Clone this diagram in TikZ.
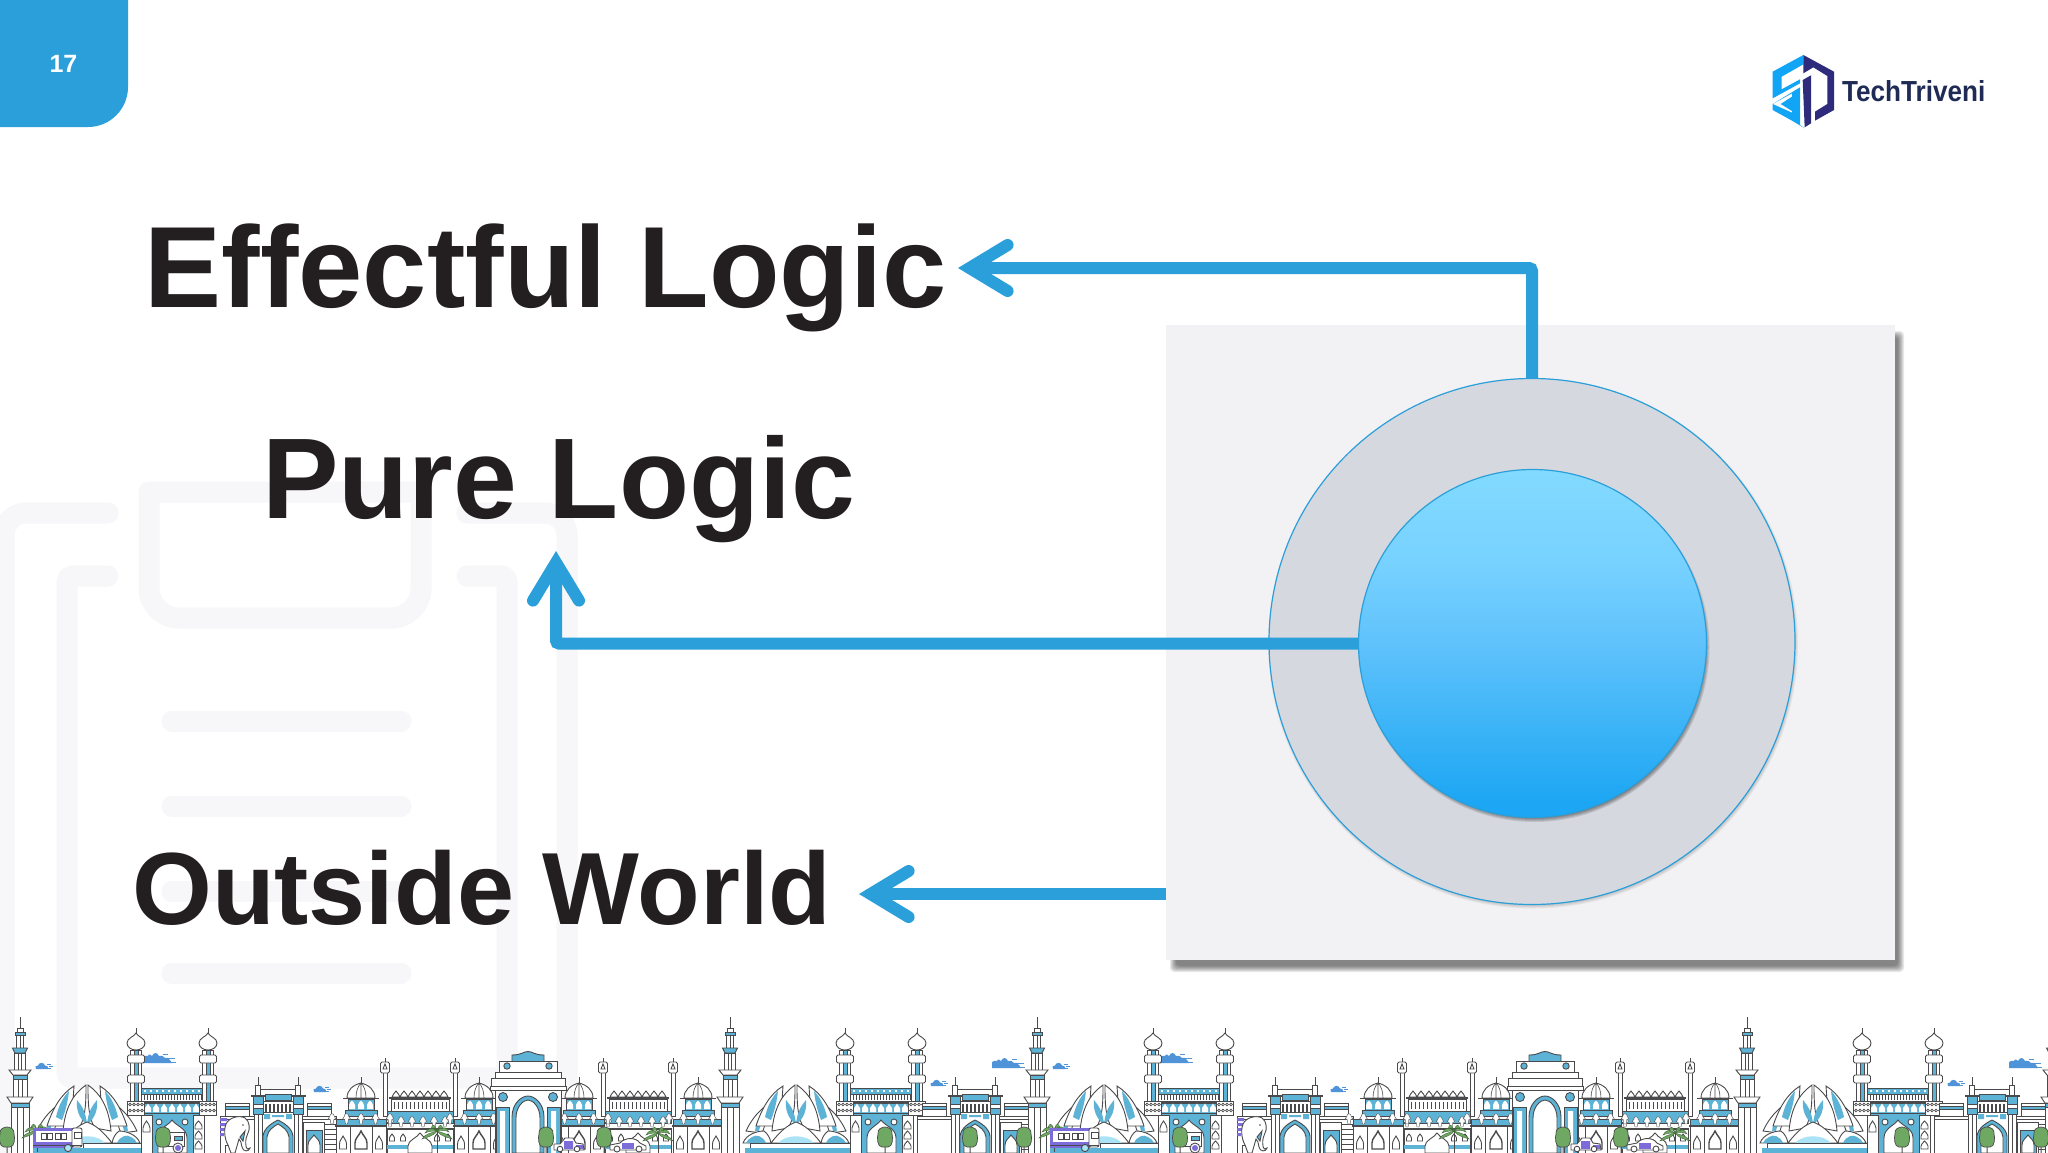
\documentclass[tikz,border=0pt]{standalone}
\usepackage{fontspec}
\setmainfont{Liberation Sans}
\usetikzlibrary{arrows.meta,calc}
\definecolor{ink}{HTML}{231F20}
\definecolor{flow}{HTML}{2A9FDA}
\definecolor{ghost}{HTML}{F7F6F8}
\definecolor{panelc}{HTML}{F2F2F4}
\definecolor{ringc}{HTML}{D6D8DF}
\definecolor{skyd}{HTML}{4A4A4C}
\definecolor{skyb}{HTML}{5DB3D6}
\definecolor{skyl}{HTML}{A9E3F5}
\definecolor{skyp}{HTML}{7B6CD9}
\definecolor{skyg}{HTML}{6FA862}
\definecolor{cloudc}{HTML}{4F94D8}
\definecolor{logol}{HTML}{12A5F5}
\definecolor{logod}{HTML}{2E2A7C}
\definecolor{logot}{HTML}{1F2A55}
\definecolor{ballt}{HTML}{82DAFF}
\definecolor{ballu}{HTML}{78D2FF}
\definecolor{ballm}{HTML}{5FC2FB}
\definecolor{ballb}{HTML}{1CA6F3}
\pgfdeclareverticalshading{ballshade}{100bp}{color(0bp)=(ballb); color(27bp)=(ballb); color(50bp)=(ballm); color(62bp)=(ballu); color(75bp)=(ballt); color(100bp)=(ballt)}
\tikzset{
 x=1pt,y=-1pt,
 sk/.style={draw=skyd,fill=white,line width=.9pt},
 sb/.style={draw=skyd,fill=skyb,line width=.9pt},
 sn/.style={draw=skyd,line width=.9pt},
 ghostline/.style={draw=ghost,line width=21pt,line cap=round,line join=round},
 conn/.style={draw=flow,line width=12pt,rounded corners=3pt,-{Straight Barb[length=38pt,width=46pt,line cap=round]}},
 bigtext/.style={inner sep=0pt,anchor=base west,text=ink,font=\bfseries},
}
% ---------- skyline parts (coordinates are page pixels) ----------
\newcommand\Tower[1]{\begin{scope}[shift={(#1,0)}]
 \draw[sn] (0,1017)--(0,1028);
 \draw[sk] (-3,1028) rectangle (3,1032);
 \draw[sb] (-5,1032) rectangle (5,1035);
 \draw[sk] (-3.5,1035) rectangle (3.5,1048); \draw[sn] (0,1035)--(0,1048);
 \draw[sb] (-7.5,1048)--(7.5,1048)--(5,1053)--(-5,1053)--cycle;
 \draw[sk] (-5.5,1053) rectangle (5.5,1070); \draw[sn] (-1.5,1053)--(-1.5,1070) (1.5,1053)--(1.5,1070);
 \draw[sk] (-11,1070)--(11,1070)--(7,1075)--(-7,1075)--cycle;
 \draw[sb] (-7,1075) rectangle (7,1079);
 \draw[sk] (-7,1079) rectangle (7,1097); \draw[sn] (-2,1079)--(-2,1097) (2,1079)--(2,1097);
 \draw[sk] (-13,1097)--(13,1097)--(9,1103)--(-9,1103)--cycle;
 \draw[sb] (-9,1103) rectangle (9,1107);
 \draw[sk] (-9,1107) rectangle (9,1153); \draw[sn] (-3,1107)--(-3,1153) (3,1107)--(3,1153);
\end{scope}}
\newcommand\Minaret[1]{\begin{scope}[shift={(#1,0)}]
 \draw[sn] (0,1028)--(0,1034);
 \draw[sk] (-5.5,1050) rectangle (5.5,1101);
 \draw[sb] (-2,1050) rectangle (2,1101);
 \draw[sk] (0,1033) .. controls (-2,1037) and (-9,1038) .. (-9,1043) .. controls (-9,1047) and (-5,1050) .. (0,1050) .. controls (5,1050) and (9,1047) .. (9,1043) .. controls (9,1038) and (2,1037) .. cycle;
 \draw[sk,rounded corners=1.5pt] (-8.5,1055) rectangle (8.5,1063);
 \draw[sk,rounded corners=1.5pt] (-8.5,1075) rectangle (8.5,1083);
 \draw[sk] (-8.5,1101) rectangle (8.5,1115);
 \foreach \a in {-6,-2,2,6}{\draw[sn,line width=.6pt] (\a,1104.5) circle (1.4) (\a,1110.5) circle (1.4);}
\end{scope}}
\newcommand\Mosque[1]{\begin{scope}[shift={(#1,0)}]
 \draw[sb] (141,1103) rectangle (204,1153);
 \draw[sb] (141,1088) rectangle (204,1094);
 \foreach \a in {145,151,...,201}{\fill[white] (\a-1.3,1090) rectangle (\a+1.3,1092);}
 \draw[sk] (141,1094) rectangle (204,1101);
 \foreach \a in {144,147,...,201}{\draw[sn,line width=.7pt] (\a,1095)--(\a,1100);}
 \draw[draw=skyd,fill=skyd] (141,1101) rectangle (204,1103);
 \foreach \a in {148,156,...,196}{\fill[white] (\a-3,1112)--(\a-3,1108) .. controls (\a-2,1106) and (\a-.5,1105.5) .. (\a,1103.5) .. controls (\a+.5,1105.5) and (\a+2,1106) .. (\a+3,1108)--(\a+3,1112)--cycle;}
 \draw[sn] (141,1113.5)--(204,1113.5);
 \draw[sk] (141,1115) rectangle (152,1153);
 \draw[sn] (146.5,1121) .. controls (145,1124) and (143,1125) .. (143,1128)--(143,1132)--(150,1132)--(150,1128) .. controls (150,1125) and (148,1124) .. cycle;
 \draw[sk] (193,1115) rectangle (204,1153);
 \foreach \a in {1121,1131,1141}{\draw[sn] (198.5,\a) .. controls (197,\a+2) and (195,\a+3) .. (195,\a+5)--(195,\a+8)--(202,\a+8)--(202,\a+5) .. controls (202,\a+3) and (200,\a+2) .. cycle;}
 \draw[sk] (172,1120) .. controls (168,1126) and (158,1128) .. (158,1138)--(158,1153)--(187,1153)--(187,1138) .. controls (187,1128) and (176,1126) .. cycle;
 \draw[sk] (159,1122) circle (3); \draw[sk] (185,1122) circle (3);
\end{scope}}
\newcommand\Lotus[1]{\begin{scope}[shift={(#1,0)}]
 \foreach \s in {-1,1}{\begin{scope}[xscale=\s]
  \draw[sk] (50,1131) .. controls (44,1118) and (36,1110) .. (28,1104) .. controls (29,1115) and (30,1124) .. (34,1133)--cycle;
  \fill[skyb] (37,1131) .. controls (35,1122) and (33,1116) .. (31,1110) .. controls (38,1116) and (40,1124) .. (41,1131)--cycle;
  \draw[sk] (40,1126) .. controls (34,1108) and (26,1094) .. (13,1086) .. controls (14,1100) and (14,1115) .. (22,1126)--cycle;
  \fill[skyb] (25,1120) .. controls (21,1110) and (19,1100) .. (18,1091) .. controls (25,1098) and (29,1108) .. (31,1117)--cycle;
  \draw[sk] (24,1131) .. controls (22,1108) and (14,1094) .. (1,1085) .. controls (1,1100) and (1,1118) .. (8,1128)--cycle;
  \fill[skyb] (0,1125) .. controls (8,1118) and (11,1110) .. (10,1100) .. controls (5,1106) and (1,1112) .. (0,1125)--cycle;
  \draw[sk] (53,1143) .. controls (50,1135) and (40,1131) .. (32,1131) .. controls (28,1134) and (26,1138) .. (25,1143)--cycle;
  \fill[skyb] (30,1143) .. controls (33,1136) and (40,1134) .. (44,1137) .. controls (47,1138) and (49,1141) .. (50,1143)--cycle;
 \end{scope}}
 \draw[sk] (-25,1143) .. controls (-15,1130) and (-8,1125) .. (0,1122) .. controls (8,1125) and (15,1130) .. (25,1143)--cycle;
 \fill[skyl] (-18,1143) .. controls (-10,1134) and (10,1134) .. (18,1143)--cycle;
\end{scope}}
\newcommand\Gateway[1]{\begin{scope}[shift={(#1,0)}]
 \draw[sk] (-53,1103) rectangle (-29,1116); \draw[sb] (-53,1106) rectangle (-29,1109);
 \draw[sk] (29,1103) rectangle (53,1116); \draw[sb] (29,1106) rectangle (53,1109);
 \draw[sk] (-58,1116) rectangle (58,1153);
 \draw[sn] (-58,1119)--(58,1119);
 \foreach \a in {1124,1129,...,1150}{\draw[sn,line width=.7pt] (47,\a)--(58,\a);}
 \draw[sk] (25,1122) rectangle (46,1153);
 \draw[sb] (28,1130) rectangle (44,1153);
 \draw[sk] (36,1135) .. controls (34,1138) and (30,1140) .. (30,1145)--(30,1153)--(42,1153)--(42,1145) .. controls (42,1140) and (38,1138) .. cycle;
 \draw[sk] (-22,1089) rectangle (22,1101); \draw[sb] (-13,1094) rectangle (13,1100);
 \draw[sk] (-22,1101) rectangle (22,1153);
 \foreach \a in {-16,-12,...,16}{\draw[sn,line width=1.2pt] (\a,1104)--(\a,1112);}
 \draw[sn] (-22,1112)--(22,1112);
 \fill[skyb] (-14,1114) rectangle (-8,1119) (8,1114) rectangle (14,1119) (-6,1115) rectangle (6,1117);
 \draw[sb] (-15,1153)--(-15,1136) .. controls (-14,1128) and (-6,1123) .. (0,1120) .. controls (6,1123) and (14,1128) .. (15,1136)--(15,1153);
 \draw[sk] (-11,1153)--(-11,1137) .. controls (-10,1130) and (-5,1127) .. (0,1124) .. controls (5,1127) and (10,1130) .. (11,1137)--(11,1153)--cycle;
 \foreach \s in {-1,1}{\begin{scope}[xscale=\s]
  \draw[sn] (20,1077)--(20,1085);
  \draw[sk] (17.5,1085) rectangle (22.5,1095);
  \draw[sk] (13,1095) rectangle (27,1096.5);
  \draw[sb] (15,1096.5) rectangle (25,1104);
  \draw[sk] (15,1104) rectangle (25,1108); \draw[sb] (15,1108) rectangle (25,1114);
  \draw[sk] (16,1114) rectangle (24,1153); \draw[sn] (20,1114)--(20,1153);
 \end{scope}}
\end{scope}}
\newcommand\DomeHall[1]{\begin{scope}[shift={(#1,0)}]
 \draw[sn] (0,1077)--(0,1083);
 \draw[sb] (-13,1099) rectangle (13,1111);
 \draw[sk] (-14,1098) .. controls (-14,1090) and (-8,1085) .. (0,1083) .. controls (8,1085) and (14,1090) .. (14,1098)--cycle;
 \draw[sn,line width=.6pt] (-5,1098) .. controls (-5,1091) and (-3,1086) .. (0,1083) .. controls (3,1086) and (5,1091) .. (5,1098) (0,1083)--(0,1098);
 \draw[sk] (-18,1098)--(18,1098);
 \foreach \a in {-9,0,9}{\fill[white] (\a-3,1109)--(\a-3,1105) .. controls (\a-3,1103) and (\a-1,1102) .. (\a,1100.5) .. controls (\a+1,1102) and (\a+3,1103) .. (\a+3,1105)--(\a+3,1109)--cycle;}
 \draw[sb] (-16,1110) rectangle (16,1116);
 \draw[sk] (-25,1125) rectangle (25,1153);
 \draw[sb] (-25,1119) rectangle (25,1125);
 \foreach \a in {-29,-14.5,0,14.5,29}{\fill[white,draw=skyd,line width=.4pt] (\a-4,1119)--(\a-2,1116) .. controls (\a-3,1113) and (\a+3,1113) .. (\a+2,1116)--(\a+4,1119)--(\a+2,1119)--(\a+1,1124)--(\a-1,1124)--(\a-2,1119)--cycle;}
 \draw[sn,line width=1.8pt] (-26,1126)--(26,1126);
 \draw[sn] (-11,1126)--(-11,1153) (11,1126)--(11,1153);
 \draw[sn,line width=1.4pt] (0,1131) .. controls (-2,1136) and (-6,1138) .. (-6,1143)--(-6,1149)--(6,1149)--(6,1143) .. controls (6,1138) and (2,1136) .. cycle;
 \foreach \a in {-18,18}{\draw[sn] (\a,1136) .. controls (\a-1,1139) and (\a-3.5,1140) .. (\a-3.5,1144)--(\a-3.5,1149)--(\a+3.5,1149)--(\a+3.5,1144) .. controls (\a+3.5,1140) and (\a+1,1139) .. cycle;}
\end{scope}}
\newcommand\LongHall[1]{\begin{scope}[shift={(#1,0)}]
 \foreach \a in {-35,35}{
  \draw[sn,fill=white] (\a-2,1072) rectangle (\a+2,1116);
  \draw[sn] (\a,1058)--(\a,1062);
  \draw[sk,rounded corners=1.5pt] (\a-4.5,1062) rectangle (\a+4.5,1073);
  \draw[sn] (\a,1064)--(\a-2,1069)--(\a+2,1069)--cycle;}
 \foreach \a in {-24,-16,...,24}{\draw[sk] (\a-4,1097) .. controls (\a-4,1094) and (\a-1,1094) .. (\a,1091) .. controls (\a+1,1094) and (\a+4,1094) .. (\a+4,1097)--cycle;}
 \draw[sn,line width=1.6pt] (-31,1098)--(31,1098);
 \draw[sk] (-29,1099) rectangle (29,1111);
 \foreach \a in {-26,-22,...,26}{\draw[sn,line width=1pt] (\a,1102)--(\a,1109);}
 \draw[sb] (-33,1111) rectangle (33,1123);
 \foreach \a in {-30,-19,...,30}{\fill[white,draw=skyd,line width=.4pt] (\a-4,1122)--(\a-2,1119) .. controls (\a-3,1116) and (\a+3,1116) .. (\a+2,1119)--(\a+4,1122)--(\a+2,1122)--(\a+1,1127)--(\a-1,1127)--(\a-2,1122)--cycle;}
 \draw[sk] (-33,1129) rectangle (33,1153);
 \draw[sn,line width=1.8pt] (-34,1129)--(34,1129);
 \fill[skyb] (-33,1145) rectangle (33,1149);
 \foreach \a in {-28,-17,17,28}{\draw[sn] (\a,1134) .. controls (\a-1,1136) and (\a-2.5,1136) .. (\a-2.5,1138)--(\a-2.5,1141)--(\a+2.5,1141)--(\a+2.5,1138) .. controls (\a+2.5,1136) and (\a+1,1136) .. cycle;}
 \draw[sk] (0,1133) .. controls (-3,1138) and (-12,1140) .. (-12,1146)--(-12,1153)--(12,1153)--(12,1146) .. controls (12,1140) and (3,1138) .. cycle;
\end{scope}}
\newcommand\IndiaGate[1]{\begin{scope}[shift={(#1,0)}]
 \draw[sb] (-16,1061) -- (-16,1055) .. controls (-6,1055) and (-5,1051.5) .. (0,1051.5) .. controls (5,1051.5) and (6,1055) .. (16,1055) -- (16,1061);
 \draw[sk] (-29,1061) rectangle (29,1072);
 \draw[sb] (-21,1066) circle (3.2); \draw[sb] (21,1066) circle (3.2);
 \draw[sk] (-33,1072) rectangle (33,1078);
 \draw[sk] (-37,1078) rectangle (37,1086);
 \draw[sk] (-38,1086) rectangle (38,1090);
 \draw[sk] (-33,1090) rectangle (33,1153);
 \draw[sb] (-25,1097) circle (4.5); \draw[sb] (25,1097) circle (4.5);
 \draw[sb] (-32,1107) rectangle (-19,1153); \draw[sb] (19,1107) rectangle (32,1153);
 \fill[white] (-28,1111) rectangle (-23,1153) (23,1111) rectangle (28,1153);
 \draw[sb] (-16,1153)--(-16,1117) .. controls (-16,1104) and (-7,1096) .. (0,1096) .. controls (7,1096) and (16,1104) .. (16,1117)--(16,1153)--cycle;
 \draw[sk] (-12,1153)--(-12,1118) .. controls (-12,1107) and (-5,1100) .. (0,1100) .. controls (5,1100) and (12,1107) .. (12,1118)--(12,1153)--cycle;
\end{scope}}
\newcommand\Tree[2]{\begin{scope}[shift={(#1,#2)}]
 \draw[skyd,line width=1pt] (0,0)--(0,26) (-3,12)--(0,16) (3,10)--(0,14);
 \draw[draw=skyd,fill=skyg,line width=.7pt] (-3,20) .. controls (-8,20) and (-8,10) .. (-7,7) .. controls (-8,2) and (-3,0) .. (0,0) .. controls (3,0) and (8,2) .. (7,7) .. controls (8,10) and (8,20) .. (3,20)--cycle;
\end{scope}}
\newcommand\Palm[2]{\begin{scope}[shift={(#1,#2)}]
 \draw[skyd,line width=1pt] (0,3)--(0,25);
 \foreach \a/\b in {-15/8,-12/2,-6/-2,15/8,12/1,6/-2}{\draw[draw=skyg!60!black,fill=skyg,line width=.4pt] (0,3) .. controls (\a*.4,\b-3) and (\a*.8,\b-2) .. (\a,\b+3) .. controls (\a*.7,\b+1) and (\a*.3,\b+1) .. (0,3)--cycle;}
\end{scope}}
\newcommand\Cloud[3]{\begin{scope}[shift={(#1,#2)},scale=#3]
 \fill[cloudc] (-6,0) .. controls (-8,-2) and (-6,-4) .. (-4,-3.5) .. controls (-3,-7) and (2,-7) .. (3,-3.5) .. controls (5,-4) and (7,-2) .. (6,0)--cycle;
 \draw[cloudc,line width=.6pt] (5,-5)--(9,-5) (7,-2.5)--(11,-2.5) (6,-.5)--(9,-.5);
\end{scope}}
\newcommand\BigCloud[2]{\begin{scope}[shift={(#1,#2)}]
 \fill[cloudc] (-14,5)--(-14,-1) .. controls (-12,-3) and (-11,-2) .. (-9,-2) .. controls (-8,-5) and (-6,-3) .. (-5,-2) .. controls (-3,-6) and (0,-6) .. (2,-2) .. controls (5,-3) and (6,-2) .. (8,0) .. controls (10,-1) and (12,0) .. (13,2) -- (15,5)--cycle;
 \draw[cloudc,line width=.6pt] (6,-4)--(11,-4) (10,0)--(18,0) (12,4)--(19,4);
\end{scope}}
\newcommand\Bus[1]{\begin{scope}[shift={(#1,0)}]
 \fill[skyp] (33,1128) rectangle (73,1148);
 \fill[white] (36,1131) rectangle (72,1142);
 \foreach \a in {44,50,58,64}{\draw[sk,line width=.7pt] (\a-2.5,1133) rectangle (\a+2.5,1139);}
 \draw[sk,rounded corners=2pt] (72,1128) rectangle (82,1147);
 \draw[sn] (74,1132) rectangle (81,1138);
 \draw[sn] (33,1145)--(82,1145);
 \draw[sk,fill=skyl] (68,1148) circle (3.6);
\end{scope}}
\newcommand\Scooter[1]{\begin{scope}[shift={(#1,0)}]
 \draw[sk] (167,1132) rectangle (184,1146);
 \draw[sb] (174,1136) rectangle (182,1140);
 \draw[sk] (178,1148) circle (5);
 \fill[skyp] (178,1148) circle (3);
\end{scope}}
\newcommand\Elephant[1]{\begin{scope}[shift={(#1,0)}]
 \fill[skyp] (220,1118) rectangle (227,1121) (220,1123) rectangle (226,1126) (220,1128) rectangle (226,1131) (220,1133) rectangle (224,1136);
 \draw[sk] (225,1153)--(225,1145)--(231,1145)--(231,1153);
 \draw[sk] (228,1145) .. controls (224,1138) and (224,1128) .. (226,1124) .. controls (229,1117) and (240,1115) .. (245,1118) .. controls (250,1121) and (250,1130) .. (248,1133) .. controls (247,1136) and (245,1138) .. (246,1146) .. controls (246,1149) and (249,1150) .. (250,1148) .. controls (249,1152) and (243,1152) .. (242,1147) .. controls (241,1143) and (241,1140) .. (239,1139) -- (235,1153) -- (231,1153) -- cycle;
 \draw[sb] (240,1137)--(245,1131)--(243,1141)--cycle;
 \fill[skyd] (243,1125) circle (.9);
\end{scope}}
\newcommand\CarA[1]{\begin{scope}[shift={(#1,0)}]
 \draw[sk] (-14,1150)--(-14,1144)--(-8,1144)--(-3,1138)--(5,1138)--(8,1143)--(15,1144)--(16,1150)--cycle;
 \fill[skyp] (-4,1141) rectangle (5,1149) (8,1145) rectangle (15,1149);
 \draw[sk] (-8,1149) circle (2.8); \draw[sk] (9,1149) circle (2.8);
\end{scope}}
\newcommand\CarB[1]{\begin{scope}[shift={(#1,0)}]
 \draw[sk] (-18,1150)--(-18,1145)--(-8,1143) .. controls (-3,1137) and (8,1137) .. (12,1143)--(18,1146)--(18,1150)--cycle;
 \fill[skyp] (-6,1143) rectangle (6,1149);
 \draw[sk] (-11,1149) circle (3); \draw[sk] (11,1149) circle (3);
\end{scope}}
\newcommand\SkyTile[1]{\begin{scope}[shift={(#1,0)}]
 \Cloud{42}{1069}{1}
 \BigCloud{157}{1058}
 \Cloud{320}{1092}{1}
 \Cloud{937}{1086}{1}
 \BigCloud{1006}{1063}
 % first group
 \Lotus{87}
 \draw[sk] (83,1143) rectangle (170,1148);
 \fill[skyb] (33,1148) rectangle (172,1153);
 \Mosque{0}
 \Minaret{136}\Minaret{208}
 \Scooter{0}
 \Tree{163}{1127}
 \Gateway{278}
 \Elephant{0}
 \Tower{20}
 \Tree{7}{1127}
 \Palm{37}{1127}
 \Bus{0}
 % halls and the great gate
 \LongHall{420}
 \DomeHall{361}
 \Palm{437}{1128}
 \LongHall{638}
 \DomeHall{479}
 \DomeHall{579}
 \IndiaGate{528}
 \CarA{568}
 \Tree{546}{1127}
 \Tree{604}{1127}
 \CarB{628}
 \Palm{658}{1130}
 \DomeHall{698}
 % second group
 \Lotus{796}
 \draw[sk] (750,1143) rectangle (880,1148);
 \fill[skyb] (745,1148) rectangle (882,1153);
 \Mosque{709}
 \Minaret{845}\Minaret{917}
 \Tree{885}{1127}
 \Gateway{975}
 \Tree{970}{1127}
 \Tower{730}
\end{scope}}
\begin{document}
\begin{tikzpicture}
\path[use as bounding box,fill=white] (0,0) rectangle (2048,1152);
% faint clipboard watermark
\begin{scope}
\clip (0,0) rectangle (2048,1152);
\draw[ghostline,rounded corners=22pt] (108,513)--(4,513)--(4,1175);
\draw[ghostline,rounded corners=22pt] (467,513)--(567,513)--(567,1175);
\draw[ghostline,rounded corners=6pt] (108,576)--(67,576)--(67,1078)--(507,1078)--(507,576)--(467,576);
\draw[ghostline] (149,492)--(421,492)--(421,588) arc[start angle=0,end angle=90,radius=30] --(179,618) arc[start angle=90,end angle=180,radius=30] --cycle;
\foreach \a in {721,806,891,973}{\draw[ghostline] (172,\a)--(401,\a);}
\end{scope}
% page tab
\fill[flow] (0,0)--(128,0) [rounded corners=40pt] --(128,127) [sharp corners] --(0,127)--cycle;
\node[inner sep=0pt,text=white,font=\bfseries\fontsize{25}{25}\selectfont] (pagenum) at (63.5,63.5) {17};
% logo
\begin{scope}[shift={(1700,30)},x=.3333pt,y=-.3333pt]
 \fill[logol] (310,75)--(218,125)--(218,205)--(300,160)--(300,148)--(245,178)--(245,140)--(310,103)--cycle;
 \fill[logol] (218,222)--(300,172)--(300,285)--(314,295)--(276,272)--(276,243)--(242,222)--(276,200)--(276,190)--(218,222)--cycle;
 \fill[logol] (218,222)--(218,240)--(276,272)--(276,248)--cycle;
 \fill[logod] (310,75)--(402,125)--(402,240)--(345,272)--(345,245)--(382,222)--(382,138)--(340,112)--(310,130)--cycle;
 \fill[logod] (308,150)--(333,136)--(333,280)--(314,292)--cycle;
\end{scope}
\node[inner sep=0pt,anchor=base west,text=logot,font=\bfseries\fontsize{29}{29}\selectfont,xscale=.9] (brand) at (1842,101) {TechTriveni};
% skyline
\begin{scope}
\clip (0,1000) rectangle (2048,1152);
\SkyTile{0}
\SkyTile{1017}
\SkyTile{2034}
\end{scope}
% panel and circles
\foreach \k in {0,1,...,6}{
 \fill[black,opacity=.085,rounded corners=4pt] (1176-\k,337-\k) rectangle (1898+\k,966+\k);}
\node[inner sep=0pt,minimum width=729pt,minimum height=635pt,fill=panelc] (panel) at (1530.5,642.5) {};
\foreach \k in {0,1,2,3}{\fill[black,opacity=.05] (1533,643.5) circle (262+\k);}
\node[circle,inner sep=0pt,minimum size=526pt,fill=ringc,draw=flow,line width=1.2pt] (outer) at (1532,641.5) {};
\coordinate (tipA) at (958,268);
\coordinate (tipB) at (556,551);
\coordinate (tipC) at (859,894);
\foreach \k in {0,1,...,4}{\fill[black,opacity=.1] (1534.5,647) circle (171+\k);}
\node[circle,inner sep=0pt,minimum size=348pt,shading=ballshade,draw=flow,line width=1.2pt] (inner) at (1532.5,643.5) {};
\draw[conn] (inner.west) -| (tipB);
\draw[conn] (outer.north) |- (tipA);
\draw[conn] (panel.west |- tipC) -- (tipC);
% labels
\node[bigtext,font=\bfseries\fontsize{115.5}{116}\selectfont] (effectful) at (144.5,307) {Effectful Logic};
\node[bigtext,font=\bfseries\fontsize{114.7}{115}\selectfont] (pure) at (262,518) {Pure Logic};
\node[bigtext,font=\bfseries\fontsize{102.6}{103}\selectfont] (outside) at (132,924) {Outside World};
\end{tikzpicture}
\end{document}
